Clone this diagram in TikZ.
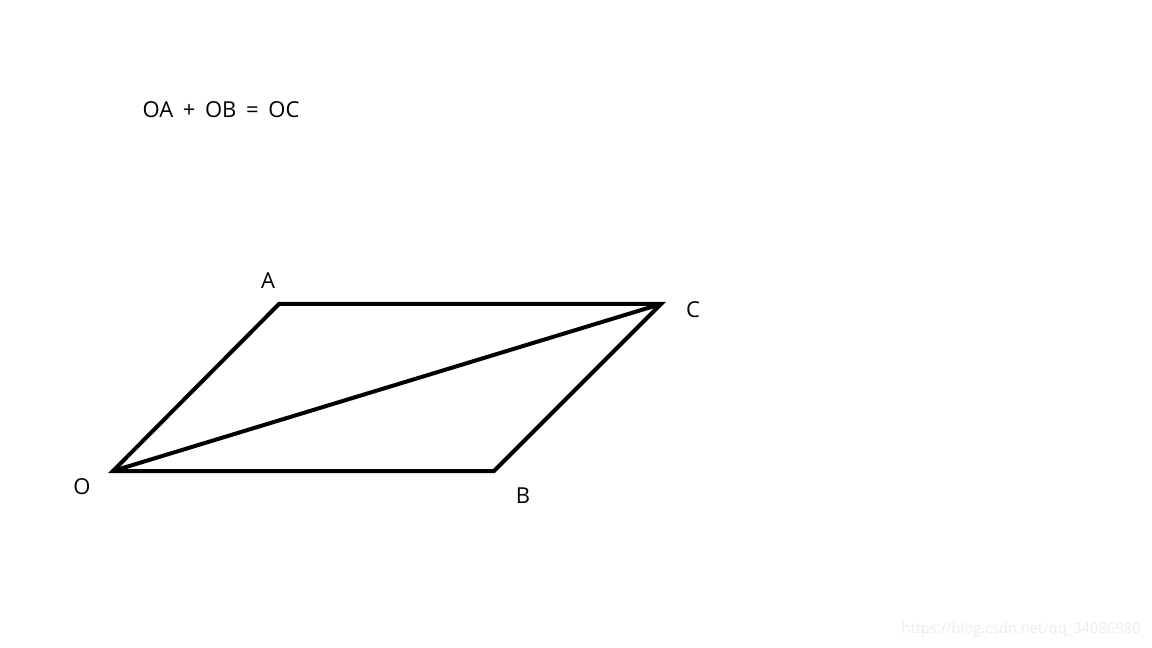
\documentclass[tikz,border=0pt]{standalone}
\usepackage{fontspec}
\setmainfont{Open Sans}
\begin{document}
\begin{tikzpicture}[x=0.75pt,y=-0.75pt,
  lbl/.style={font=\fontsize{16.5}{19}\selectfont, inner sep=0pt},
  edge/.style={line width=3pt, line join=miter, line cap=butt}]
\useasboundingbox (0,0) rectangle (1152,648);
\fill[white] (0,0) rectangle (1152,648);
\coordinate (O) at (113,471);
\coordinate (A) at (279,304);
\coordinate (C) at (661,304);
\coordinate (B) at (494,471);
\draw[edge] (O) -- (A) -- (C) -- (B) -- cycle;
\draw[edge] (O) -- (C);
\node[lbl] (eq) at (221,110) {OA\hspace{0.44em}+\hspace{0.44em}OB\hspace{0.44em}=\hspace{0.44em}OC};
\node[lbl] (la) at (268,281) {A};
\node[lbl] (lc) at (693,310) {C};
\node[lbl] (lo) at (82,487) {O};
\node[lbl] (lb) at (523,496) {B};
\node[inner sep=0pt, font=\fontsize{11}{13}\selectfont, text=black!7] (wm) at (1021,630) {https://blog.csdn.net/qq\_34086980};
\end{tikzpicture}
\end{document}
